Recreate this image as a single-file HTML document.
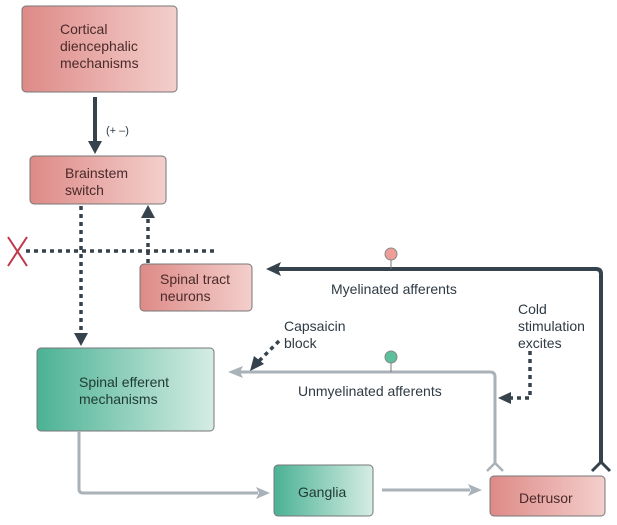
<!DOCTYPE html>
<html><head><meta charset="utf-8"><style>
html,body{margin:0;padding:0;background:#fff;}
svg{display:block;font-family:"Liberation Sans",sans-serif;}
</style></head><body>
<svg width="617" height="525" viewBox="0 0 617 525" xmlns="http://www.w3.org/2000/svg">
<defs>
<linearGradient id="r" x1="0" x2="1" y1="0" y2="0"><stop offset="0" stop-color="#de8a87"/><stop offset="1" stop-color="#f3cfcc"/></linearGradient>
<linearGradient id="g" x1="0" x2="1" y1="0" y2="0"><stop offset="0" stop-color="#4bb294"/><stop offset="1" stop-color="#d6ede4"/></linearGradient>
</defs>
<g stroke="#777" stroke-width="1">
<rect x="22" y="6" width="155" height="86" rx="4" fill="url(#r)"/>
<rect x="30" y="156" width="136" height="48" rx="4" fill="url(#r)"/>
<rect x="140" y="264" width="112" height="47" rx="4" fill="url(#r)"/>
<rect x="37" y="348" width="177" height="83" rx="4" fill="url(#g)"/>
<rect x="274" y="465" width="99" height="51" rx="4" fill="url(#g)"/>
<rect x="490" y="476" width="115" height="40" rx="4" fill="url(#r)"/>
</g>
<g fill="#4a2a2a" font-size="14">
<text x="60" y="34">Cortical</text><text x="60" y="51">diencephalic</text><text x="60" y="68">mechanisms</text>
<text x="65" y="178">Brainstem</text><text x="65" y="195">switch</text>
<text x="160" y="284">Spinal tract</text><text x="160" y="301">neurons</text>
<text x="79" y="387" fill="#1f3a33">Spinal efferent</text><text x="79" y="404" fill="#1f3a33">mechanisms</text>
<text x="298" y="497" fill="#1f3a33">Ganglia</text>
<text x="519" y="503">Detrusor</text>
</g>
<g fill="#2e3a44" font-size="14">
<text x="106" y="134" font-size="11">(+ –)</text>
<text x="331" y="294">Myelinated afferents</text>
<text x="298" y="396">Unmyelinated afferents</text>
<text x="284" y="331">Capsaicin</text><text x="284" y="348">block</text>
<text x="518" y="314">Cold</text><text x="518" y="331">stimulation</text><text x="518" y="348">excites</text>
</g>
<line x1="95" y1="97" x2="95" y2="144" stroke="#36424c" stroke-width="4"/>
<polygon points="88,141 102,141 95,154" fill="#36424c"/>
<path d="M278 269 H596 Q601 269 601 274 V463" fill="none" stroke="#36424c" stroke-width="4"/>
<polygon points="266,269 281,262 278,269 281,276" fill="#36424c"/>
<polyline points="592,471 601,462 610,471" fill="none" stroke="#36424c" stroke-width="3"/>
<line x1="391" y1="259" x2="391" y2="269" stroke="#777" stroke-width="1"/>
<circle cx="391" cy="254" r="6" fill="#ef9d97" stroke="#888"/>
<path d="M240 372 H490 Q495 372 495 377 V463" fill="none" stroke="#a9b2b9" stroke-width="3"/>
<polygon points="228,372 243,366 240,372 243,378" fill="#a9b2b9"/>
<polyline points="487,471 495,463 503,471" fill="none" stroke="#a9b2b9" stroke-width="2.5"/>
<line x1="391" y1="362" x2="391" y2="372" stroke="#777" stroke-width="1"/>
<circle cx="391" cy="357" r="6" fill="#5cc09d" stroke="#888"/>
<path d="M79 431 V489 Q79 493 83 493 H258" fill="none" stroke="#a9b2b9" stroke-width="3"/>
<polygon points="270,493 256,487 259,493 256,499" fill="#a9b2b9"/>
<line x1="382" y1="490" x2="470" y2="490" stroke="#a9b2b9" stroke-width="3"/>
<polygon points="482,490 468,484 471,490 468,496" fill="#a9b2b9"/>
<g stroke="#36424c" stroke-width="3.5" stroke-dasharray="4,4" fill="none">
<line x1="81" y1="206" x2="81" y2="335"/>
<line x1="148" y1="263" x2="148" y2="218"/>
<line x1="26" y1="251" x2="214" y2="251"/>
<line x1="279" y1="341" x2="258" y2="362"/>
<polyline points="530,351 530,398 510,398"/>
</g>
<polygon points="74,333 88,333 81,346" fill="#36424c"/>
<polygon points="141,218 155,218 148,205" fill="#36424c"/>
<polygon points="250,371 254,356 264,364" fill="#36424c"/>
<polygon points="498,398 511,392 511,404" fill="#36424c"/>
<g stroke="#c0384a" stroke-width="2"><line x1="8" y1="237" x2="27" y2="266"/><line x1="27" y1="237" x2="8" y2="266"/></g>
</svg>
</body></html>
